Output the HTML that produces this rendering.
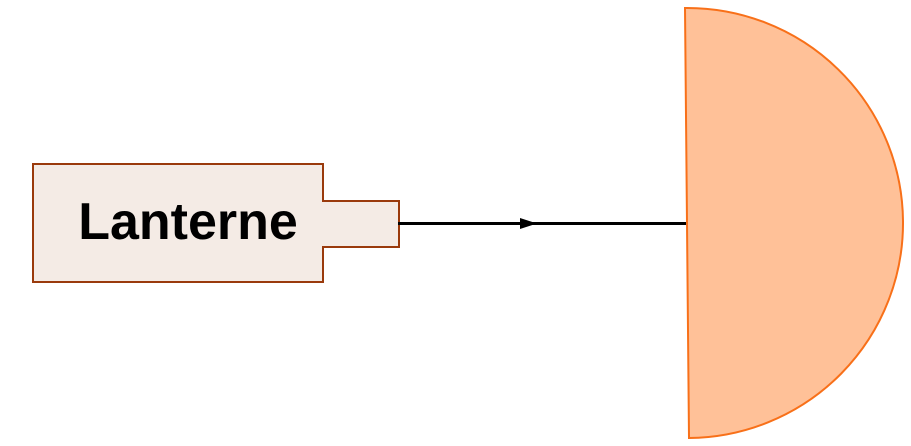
<!DOCTYPE html>
<html><head><style>html,body{margin:0;padding:0;background:#fff;}svg{display:block}</style></head>
<body>
<svg width="911" height="446" viewBox="0 0 911 446" xmlns="http://www.w3.org/2000/svg">
<path d="M33,164 H323 V201 H399 V247 H323 V282 H33 Z" fill="#f4ebe5" stroke="#9a3a0c" stroke-width="2"/>
<text x="188" y="239" text-anchor="middle" font-family="Liberation Sans, sans-serif" font-weight="bold" font-size="52" fill="#000">Lanterne</text>
<line x1="398" y1="223.5" x2="688" y2="223.5" stroke="#000" stroke-width="3"/>
<path d="M520,218 L537,223.5 L520,229 Z" fill="#000"/>
<path d="M685,8 L689,438 A216,215 0 0 0 685,8 Z" fill="#ffc198" stroke="#f87019" stroke-width="2"/>
</svg>
</body></html>
